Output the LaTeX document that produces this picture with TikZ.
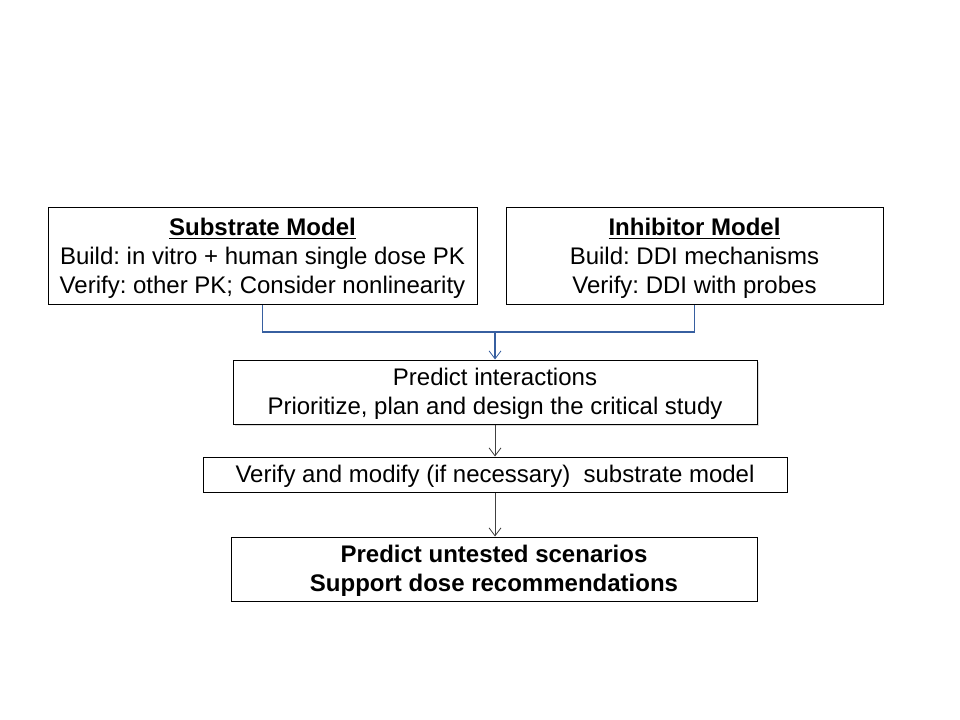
\documentclass[tikz,border=0pt]{standalone}
\usepackage{fontspec}
\setmainfont{Liberation Sans}
\usetikzlibrary{arrows.meta,shadows}
\definecolor{conblue}{RGB}{55,95,160}
\begin{document}
\frenchspacing
\begin{tikzpicture}[x=0.75pt,y=-0.75pt,
  box/.style={draw=black,line width=0.75pt,fill=white,align=center,inner sep=0pt,
    font=\fontsize{18}{21.75}\selectfont\frenchspacing},
  con/.style={line width=0.75pt,draw=black!75},
  bluecon/.style={line width=0.9pt,draw=conblue},
  tip/.style={-{Straight Barb[length=6pt,width=9pt,line width=0.6pt]}}]
\useasboundingbox (0,0) rectangle (960,720);
\node[box,minimum width=321.75pt,minimum height=72.75pt] (sub) at (262.5,256.5)
  {\rule{0pt}{16pt}\textbf{\underline{Substrate Model}}\\Build: in vitro + human single dose PK\\Verify: other PK; Consider nonlinearity};
\node[box,minimum width=282.75pt,minimum height=72.75pt] (inh) at (694.5,256.5)
  {\rule{0pt}{16pt}\textbf{\underline{Inhibitor Model}}\\Build: DDI mechanisms\\Verify: DDI with probes};
\node[box,minimum width=393pt,minimum height=48pt,
  drop shadow={shadow xshift=1.5pt,shadow yshift=-1.5pt,opacity=0.35,fill=black!40}] (pred) at (495,392)
  {\rule{0pt}{16pt}Predict interactions\\Prioritize, plan and design the critical study};
\node[box,minimum width=438pt,minimum height=26.25pt] (ver) at (495,474.5)
  {\rule{0pt}{16pt}Verify and modify (if necessary)\ \ substrate model};
\node[box,minimum width=394.5pt,minimum height=48pt] (unt) at (494,569)
  {\rule{0pt}{16pt}\textbf{Predict untested scenarios}\\\textbf{Support dose recommendations}};
\coordinate (j) at (495,332);
\draw[bluecon] (sub.south) |- (j) -| (inh.south);
\draw[bluecon,tip] (j) -- (pred.north);
\draw[con,tip] (pred.south) -- (ver.north);
\draw[con,tip] (ver.south) -- (unt.north -| ver.south);
\end{tikzpicture}
\end{document}
